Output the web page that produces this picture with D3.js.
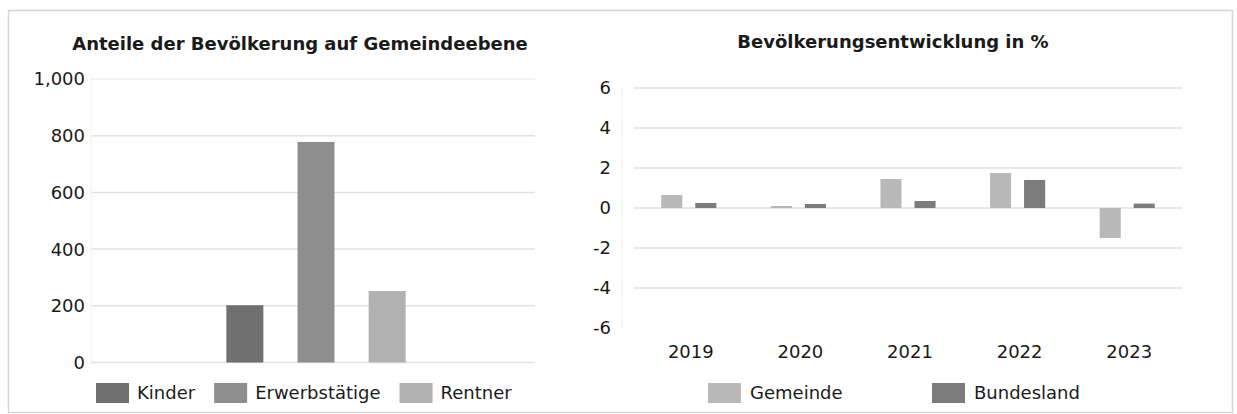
<!DOCTYPE html>
<html lang="de">
<head>
<meta charset="UTF-8">
<title>Bevölkerung</title>
<script src="https://d3js.org/d3.v7.min.js"></script>
<style>
    body { margin: 0; background: #fff; }
    svg text { font-family: "DejaVu Sans", Verdana, sans-serif; fill: #1a1a1a; }
    .title { font-weight: bold; font-size: 18px; }
    .tick-label { font-size: 18px; }
    .legend-label { font-size: 18px; }
</style>
</head>
<body>
<div id="chart"></div>
<script>
    // linker Teil: Anteile der Bevölkerung
    const ageGroups = ["Kinder", "Erwerbstätige", "Rentner"];
    const ageValues = [202, 778, 252];
    const ageTicks = [0, 200, 400, 600, 800, 1000];

    // rechter Teil: Entwicklung in %
    const years = ["2019", "2020", "2021", "2022", "2023"];
    const seriesNames = ["Gemeinde", "Bundesland"];
    const gemeindeValues = [0.65, 0.1, 1.45, 1.75, -1.5];
    const bundeslandValues = [0.25, 0.2, 0.35, 1.4, 0.22];
    const devTicks = [-6, -4, -2, 0, 2, 4, 6];

    const W = 1237, H = 414;
    const svg = d3.select("#chart").append("svg")
        .attr("width", W).attr("height", H);

    // Rahmen
    svg.append("rect")
        .attr("x", 8.5).attr("y", 10.5)
        .attr("width", 1224).attr("height", 402)
        .attr("fill", "#fff")
        .attr("stroke", "#d6d6d6")
        .attr("stroke-width", 1.5);

    // ---------- linkes Diagramm ----------
    const left = { x0: 91, x1: 535, y0: 362.5, y1: 79 };
    const yL = d3.scaleLinear().domain([0, 1000]).range([left.y0, left.y1]);
    const xL = d3.scaleBand().domain(ageGroups)
        .range([left.x0 + 3, left.x1 + 3])
        .paddingInner(0.48).paddingOuter(1.86);
    const colorL = d3.scaleOrdinal().domain(ageGroups)
        .range(["#707070", "#8e8e8e", "#b1b1b1"]);

    const gL = svg.append("g");
    gL.selectAll(".grid").data(ageTicks).enter().append("line")
        .attr("x1", left.x0).attr("x2", left.x1)
        .attr("y1", d => yL(d)).attr("y2", d => yL(d))
        .attr("stroke", d => d === 1000 ? "#efefef" : "#e2e2e2")
        .attr("stroke-width", 1.5);
    gL.append("line")
        .attr("x1", left.x0).attr("x2", left.x0)
        .attr("y1", left.y1).attr("y2", left.y0)
        .attr("stroke", "#eeeeee");
    gL.selectAll(".tick-label").data(ageTicks).enter().append("text")
        .attr("class", "tick-label")
        .attr("x", 85).attr("y", d => yL(d))
        .attr("dy", "0.36em")
        .attr("text-anchor", "end")
        .text(d => d3.format(",")(d));
    gL.selectAll(".bar").data(ageGroups).enter().append("rect")
        .attr("x", d => xL(d))
        .attr("width", xL.bandwidth())
        .attr("y", (d, i) => yL(ageValues[i]))
        .attr("height", (d, i) => yL(0) - yL(ageValues[i]))
        .attr("fill", d => colorL(d));
    gL.append("text").attr("class", "title")
        .attr("x", 300).attr("y", 50)
        .attr("text-anchor", "middle")
        .text("Anteile der Bevölkerung auf Gemeindeebene");

    // Legende links (fortlaufend)
    let lx = 96;
    ageGroups.forEach(name => {
        const item = gL.append("g").attr("transform", `translate(${lx},383)`);
        item.append("rect").attr("width", 33).attr("height", 20).attr("fill", colorL(name));
        const t = item.append("text").attr("class", "legend-label")
            .attr("x", 41).attr("y", 10).attr("dy", "0.36em").text(name);
        lx += 41 + t.node().getComputedTextLength() + 19;
    });

    // ---------- rechtes Diagramm ----------
    const right = { x0: 634, x1: 1182, y0: 328, y1: 88 };
    const yR = d3.scaleLinear().domain([-6, 6]).range([right.y0, right.y1]);
    const x0R = d3.scaleBand().domain(years).range([right.x0, right.x1]);
    const x1R = d3.scaleBand().domain(seriesNames)
        .range([0, x0R.bandwidth()])
        .paddingInner(0.38).paddingOuter(0.8);
    const colorR = d3.scaleOrdinal().domain(seriesNames)
        .range(["#b9b9b9", "#7c7c7c"]);

    const gR = svg.append("g");
    gR.selectAll(".grid").data(devTicks.filter(d => d > -6)).enter().append("line")
        .attr("x1", right.x0).attr("x2", right.x1)
        .attr("y1", d => yR(d)).attr("y2", d => yR(d))
        .attr("stroke", "#e2e2e2")
        .attr("stroke-width", 1.5);
    gR.append("line")
        .attr("x1", 622).attr("x2", 622)
        .attr("y1", right.y1).attr("y2", right.y0)
        .attr("stroke", "#eeeeee");
    gR.selectAll(".tick-label").data(devTicks).enter().append("text")
        .attr("class", "tick-label")
        .attr("x", 611).attr("y", d => yR(d))
        .attr("dy", "0.36em")
        .attr("text-anchor", "end")
        .text(d => d);
    gR.selectAll(".year").data(years).enter().append("text")
        .attr("class", "tick-label")
        .attr("x", d => x0R(d) + x0R.bandwidth() / 2 + 2)
        .attr("y", 352).attr("dy", "0.36em")
        .attr("text-anchor", "middle")
        .text(d => d);

    const rows = years.map((y, i) => ({ year: y, values: [gemeindeValues[i], bundeslandValues[i]] }));
    const groups = gR.selectAll(".grp").data(rows).enter().append("g")
        .attr("transform", d => `translate(${x0R(d.year)},0)`);
    groups.selectAll("rect").data(d => d.values.map((v, j) => ({ key: seriesNames[j], v })))
        .enter().append("rect")
        .attr("x", d => x1R(d.key))
        .attr("width", x1R.bandwidth())
        .attr("y", d => yR(Math.max(0, d.v)))
        .attr("height", d => Math.abs(yR(d.v) - yR(0)))
        .attr("fill", d => colorR(d.key));

    gR.append("text").attr("class", "title")
        .attr("x", 893).attr("y", 48)
        .attr("text-anchor", "middle")
        .text("Bevölkerungsentwicklung in %");

    // Legende rechts
    const legendR = d3.scalePoint().domain(seriesNames).range([708, 932]);
    seriesNames.forEach(name => {
        const item = gR.append("g").attr("transform", `translate(${legendR(name)},383)`);
        item.append("rect").attr("width", 33).attr("height", 20).attr("fill", colorR(name));
        item.append("text").attr("class", "legend-label")
            .attr("x", 42).attr("y", 10).attr("dy", "0.36em").text(name);
    });
</script>
</body>
</html>
